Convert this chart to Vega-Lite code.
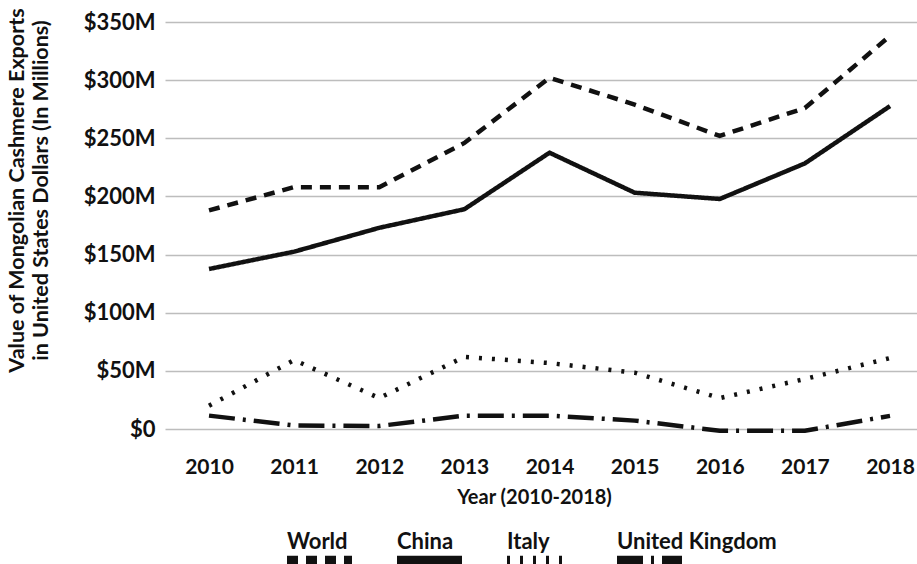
{
  "$schema": "https://vega.github.io/schema/vega-lite/v6.json",
  "width": 752,
  "height": 407,
  "autosize": {"type": "none"},
  "padding": {"left": 165, "top": 22, "right": 0, "bottom": 135},
  "background": "white",
  "config": {
    "view": {"stroke": null},
    "font": "Lato",
    "axis": {
      "labelFont": "Lato", "labelFontWeight": "bold", "labelFontSize": 22, "labelColor": "#111",
      "titleFont": "Lato", "titleFontWeight": "bold", "titleFontSize": 20, "titleColor": "#111",
      "domain": false, "ticks": false, "gridColor": "#bdbdbd", "gridWidth": 1.5
    },
    "legend": {
      "labelFont": "Lato", "labelFontWeight": "bold", "labelFontSize": 22, "labelColor": "#111"
    }
  },
  "data": {
    "values": [
      {"year": 2010, "series": "World", "value": 188},
      {"year": 2011, "series": "World", "value": 208},
      {"year": 2012, "series": "World", "value": 208},
      {"year": 2013, "series": "World", "value": 246},
      {"year": 2014, "series": "World", "value": 302},
      {"year": 2015, "series": "World", "value": 279},
      {"year": 2016, "series": "World", "value": 252},
      {"year": 2017, "series": "World", "value": 276},
      {"year": 2018, "series": "World", "value": 338},
      {"year": 2010, "series": "China", "value": 137.6},
      {"year": 2011, "series": "China", "value": 152.5},
      {"year": 2012, "series": "China", "value": 173},
      {"year": 2013, "series": "China", "value": 189},
      {"year": 2014, "series": "China", "value": 237.6},
      {"year": 2015, "series": "China", "value": 203.2},
      {"year": 2016, "series": "China", "value": 197.8},
      {"year": 2017, "series": "China", "value": 228.4},
      {"year": 2018, "series": "China", "value": 277.7},
      {"year": 2010, "series": "Italy", "value": 20},
      {"year": 2011, "series": "Italy", "value": 59.3},
      {"year": 2012, "series": "Italy", "value": 26.6},
      {"year": 2013, "series": "Italy", "value": 62},
      {"year": 2014, "series": "Italy", "value": 56.7},
      {"year": 2015, "series": "Italy", "value": 48.4},
      {"year": 2016, "series": "Italy", "value": 26.6},
      {"year": 2017, "series": "Italy", "value": 43},
      {"year": 2018, "series": "Italy", "value": 61},
      {"year": 2010, "series": "United Kingdom", "value": 11.5},
      {"year": 2011, "series": "United Kingdom", "value": 3},
      {"year": 2012, "series": "United Kingdom", "value": 2.6},
      {"year": 2013, "series": "United Kingdom", "value": 11.5},
      {"year": 2014, "series": "United Kingdom", "value": 11.5},
      {"year": 2015, "series": "United Kingdom", "value": 7.2},
      {"year": 2016, "series": "United Kingdom", "value": -1.5},
      {"year": 2017, "series": "United Kingdom", "value": -1.5},
      {"year": 2018, "series": "United Kingdom", "value": 11.3}
    ]
  },
  "mark": {"type": "line", "color": "#111", "strokeWidth": 4.5, "strokeCap": "butt", "strokeJoin": "miter", "clip": false},
  "encoding": {
    "x": {
      "field": "year", "type": "quantitative",
      "scale": {"domain": [2009.483, 2018.317], "nice": false, "zero": false},
      "axis": {
        "values": [2010, 2011, 2012, 2013, 2014, 2015, 2016, 2017, 2018],
        "format": "d", "grid": false, "labelBaseline": "alphabetic", "labelPadding": 44,
        "labelFontSize": 21,
        "title": "Year (2010-2018)", "titleBaseline": "alphabetic", "titleY": 74, "titleX": 369
      }
    },
    "y": {
      "field": "value", "type": "quantitative",
      "scale": {"domain": [0, 350], "nice": false, "zero": false},
      "axis": {
        "values": [0, 50, 100, 150, 200, 250, 300, 350],
        "labelExpr": "datum.value == 0 ? '$0' : '$' + datum.value + 'M'",
        "labelPadding": 10,
        "title": ["Value of Mongolian Cashmere Exports", "in United States Dollars (In Millions)"],
        "titleFontSize": 21.5,
        "titleLineHeight": 24, "titleBaseline": "alphabetic", "titleX": -142, "titleY": 168
      }
    },
    "strokeDash": {
      "field": "series", "type": "nominal",
      "scale": {
        "domain": ["World", "China", "Italy", "United Kingdom"],
        "range": [[11, 8], [1, 0], [3, 10], [26, 8, 3, 8]]
      },
      "legend": {
        "title": null, "orient": "none", "direction": "horizontal",
        "legendX": 115, "legendY": 501,
        "symbolType": "stroke", "symbolSize": 4225, "symbolStrokeWidth": 14,
        "symbolStrokeColor": "#111",
        "labelAlign": "left", "labelBaseline": "alphabetic", "labelOffset": -72,
        "columnPadding": -11, "gridAlign": "each",
        "encode": {"labels": {"update": {"dy": {"value": -14}}}}
      }
    }
  }
}
